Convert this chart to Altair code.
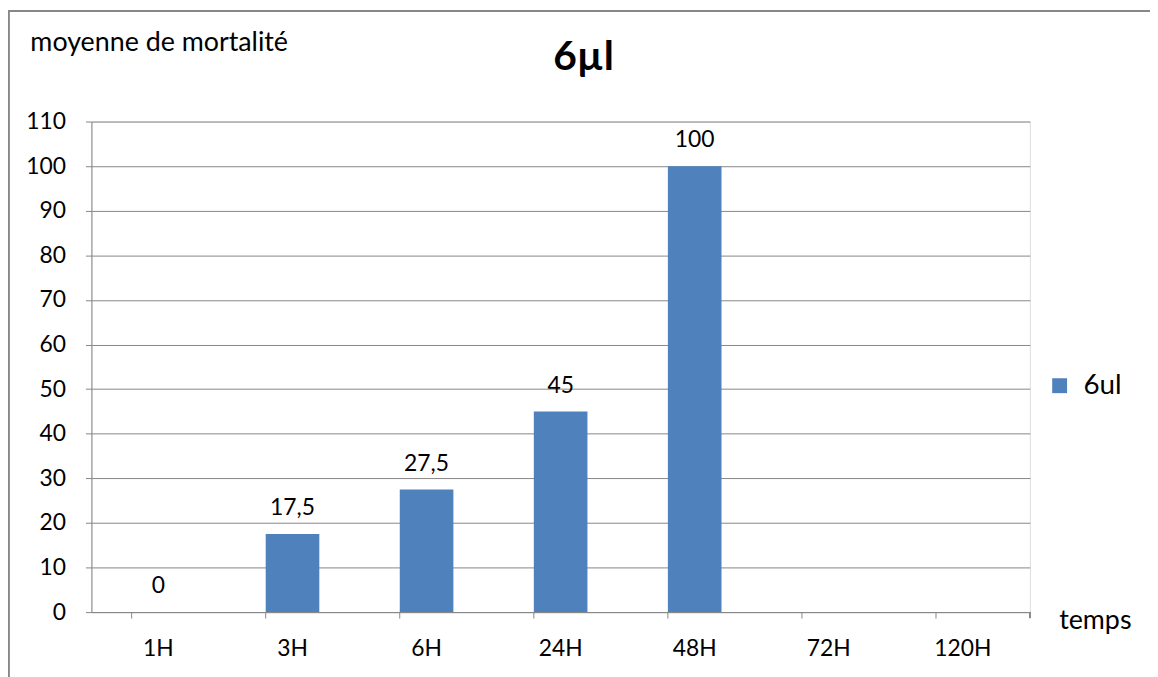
import altair as alt
import pandas as pd

categories = ["1H", "3H", "6H", "24H", "48H", "72H", "120H"]
values = [0, 17.5, 27.5, 45, 100, None, None]
series_name = "6ul"
y_ticks = [0, 10, 20, 30, 40, 50, 60, 70, 80, 90, 100, 110]

df = pd.DataFrame({"temps": categories, "val": values})
df["serie"] = series_name
df["label"] = df["val"].apply(lambda v: "" if pd.isna(v) else (f"{v:g}".replace(".", ",")))

FONT = "Lato"
GRID = "#878787"
BLUE = "#4F81BD"
W, H = 945, 494
NUM = 23
WORD = 27

x_enc = alt.X("temps:N", sort=categories,
              scale=alt.Scale(paddingInner=0.6, paddingOuter=0.3),
              axis=alt.Axis(title="temps", titleAngle=0, titleAlign="left",
                            titleBaseline="alphabetic", titleX=974, titleY=17,
                            titleFont=FONT, titleFontSize=WORD, titleFontWeight="normal",
                            titleColor="black",
                            labelAngle=0, labelFont=FONT, labelFontSize=NUM,
                            labelColor="black", labelPadding=20,
                            bandPosition=0, ticks=True, tickSize=6, tickColor=GRID,
                            domainColor=GRID, grid=False))

y_scale = alt.Scale(domain=[0, 110], nice=False)

bars = alt.Chart(df).mark_bar(color=BLUE).encode(
    x=x_enc,
    y=alt.Y("val:Q", scale=y_scale,
            axis=alt.Axis(values=y_ticks, title="moyenne de mortalité",
                          titleAngle=0, titleAlign="left", titleBaseline="alphabetic",
                          titleX=-62, titleY=-72, titleFont=FONT, titleFontSize=WORD,
                          titleFontWeight="normal", titleColor="black",
                          labelFont=FONT, labelFontSize=NUM, labelColor="black",
                          labelPadding=20, tickSize=6, tickColor=GRID,
                          domainColor=GRID, gridColor=GRID, gridWidth=1)),
    fill=alt.Fill("serie:N", scale=alt.Scale(range=[BLUE]),
                  legend=alt.Legend(title=None, orient="none", legendX=961, legendY=252,
                                    symbolType="square", symbolSize=225,
                                    symbolStrokeWidth=0, labelFont=FONT,
                                    labelFontSize=28, labelColor="black", labelOffset=10)),
)

labels = alt.Chart(df).transform_filter("datum.val != null").mark_text(
    font=FONT, fontSize=NUM, color="black", baseline="alphabetic", dy=-19
).encode(
    x=alt.X("temps:N", sort=categories),
    y=alt.Y("val:Q", scale=y_scale),
    text="label:N",
)

end_tick = alt.Chart(df).mark_rule(color=GRID, strokeWidth=1).encode(
    x=alt.value(W), y=alt.value(H), y2=alt.value(H + 6)
)

border = alt.Chart(df).mark_rect(fill=None, stroke=GRID, strokeWidth=1.5).encode(
    x=alt.value(-83.5), x2=alt.value(1200), y=alt.value(-111.5), y2=alt.value(700)
)

chart = alt.layer(border, bars, labels, end_tick).properties(
    width=W, height=H,
    title=alt.TitleParams("6µl", font=FONT, fontSize=41, fontWeight="bold",
                          color="black", anchor="middle", dx=23, dy=73),
    autosize=alt.AutoSizeParams(type="none"),
    padding={"left": 84, "top": 112, "right": 121, "bottom": 63},
).configure_view(stroke=None).configure(background="white")

chart.save("out.html", embed_options={"renderer": "svg", "actions": False})
